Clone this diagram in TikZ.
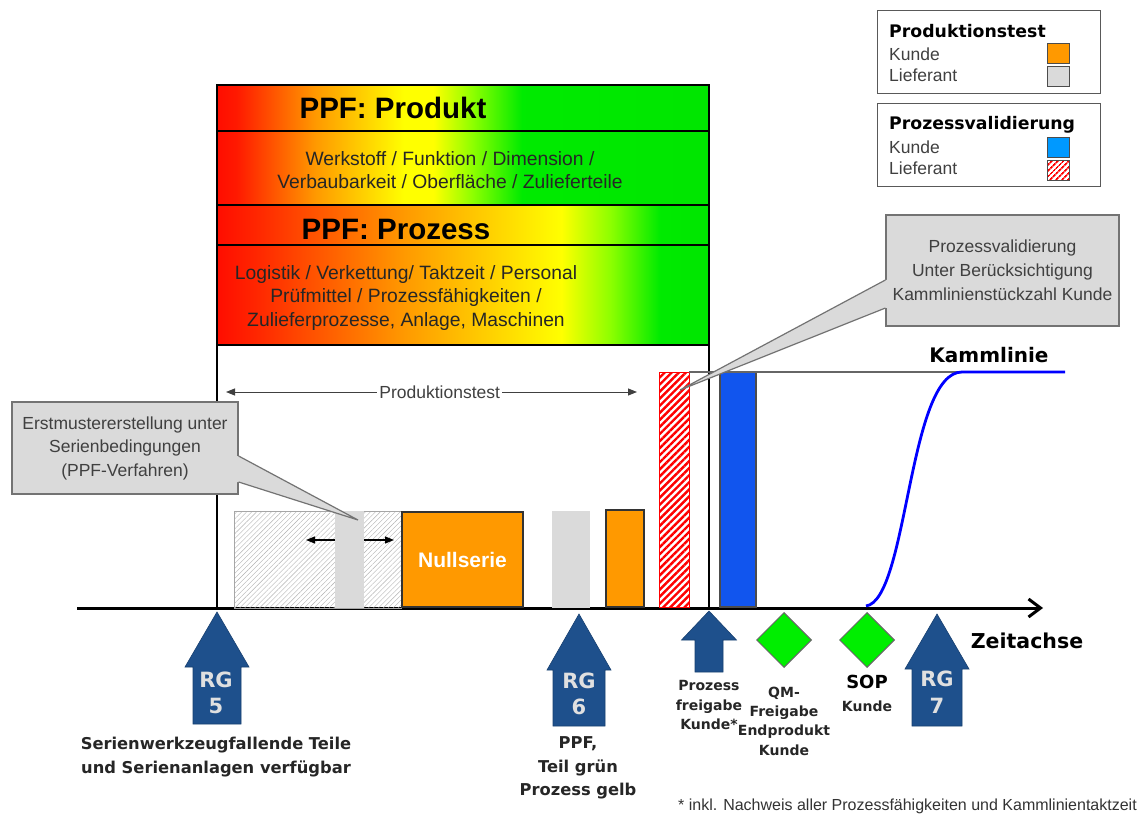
\documentclass[tikz,border=0pt]{standalone}
\usepackage{fontspec}
\setmainfont{Liberation Sans}
\newfontfamily\widesans{DejaVu Sans}
\usetikzlibrary{arrows.meta,patterns.meta,shapes.geometric}

\definecolor{ppforange}{RGB}{255,153,0}
\definecolor{ltgray}{RGB}{218,218,218}
\definecolor{barblue}{RGB}{17,85,238}
\definecolor{legblue}{RGB}{0,153,255}
\definecolor{rgblue}{RGB}{30,80,140}
\definecolor{msgreen}{RGB}{0,238,0}
\definecolor{calloutgray}{RGB}{218,218,218}

\newcommand\pxs[2]{\fontsize{#1}{#2}\selectfont}

% colour ramps for the two PPF bands (25bp = left edge, 75bp = right edge)
\pgfdeclarehorizontalshading{prodramp}{100bp}{%
  rgb(0bp)=(1,0.05,0); rgb(25bp)=(1,0.05,0); rgb(27bp)=(1,0.1,0);
  rgb(35bp)=(1,0.6,0); rgb(44bp)=(1,1,0); rgb(47bp)=(1,1,0);
  rgb(51bp)=(0.55,1,0); rgb(56bp)=(0,0.92,0); rgb(75bp)=(0,0.9,0);
  rgb(100bp)=(0,0.9,0)}
\pgfdeclarehorizontalshading{procramp}{100bp}{%
  rgb(0bp)=(1,0.05,0); rgb(25bp)=(1,0.05,0); rgb(29bp)=(1,0.15,0);
  rgb(44bp)=(1,0.6,0); rgb(60bp)=(1,1,0); rgb(65bp)=(0.55,1,0);
  rgb(70bp)=(0,0.92,0); rgb(75bp)=(0,0.9,0); rgb(100bp)=(0,0.9,0)}

% upward block arrow: tip x, tip y, head half width, head length, shaft half width, shaft length
\newcommand\rgarrow[6]{%
  \filldraw[fill=rgblue, draw=rgblue!80!black, line width=0.6pt]
    (#1,#2) -- ++(#3,#4) -- ++({-(#3-#5)},0) -- ++(0,#6) -- ++({-2*#5},0)
    -- ++(0,{-#6}) -- ++({-(#3-#5)},0) -- cycle;}

\begin{document}
\begin{tikzpicture}[x=1pt,y=-1pt,
  band/.style={draw=black, line width=2.6pt, minimum width=492pt, anchor=north west,
    inner sep=0pt, outer sep=0pt},
  bandtitle/.style={font=\bfseries\pxs{29.5}{34}, text=black, inner sep=0pt},
  bandtext/.style={font=\pxs{19.3}{23.5}, text=black!85, align=center, inner sep=0pt},
  legbox/.style={draw=black!65, line width=1.2pt, fill=white, anchor=north west,
    minimum width=223pt, minimum height=83pt, inner sep=0pt},
  legtitle/.style={font=\widesans\bfseries\pxs{17.3}{20}, anchor=west, inner sep=0pt},
  legtext/.style={font=\pxs{17.5}{20}, text=black!75, anchor=west, inner sep=0pt},
  swatch/.style={draw=black!70, line width=1pt, anchor=north west, minimum width=22pt,
    minimum height=20pt, inner sep=0pt},
  bar/.style={anchor=north west, inner sep=0pt, outer sep=0pt},
  callout/.style={fill=calloutgray, draw=black!55, line width=1.2pt, inner sep=0pt,
    align=center, text=black!75},
  thinarrow/.style={draw=black!75, line width=1pt, {Triangle[length=9pt,width=7pt]}-{Triangle[length=9pt,width=7pt]}},
  smallarrow/.style={draw=black, line width=1.2pt, -{Triangle[length=9pt,width=7pt]}},
  rglabel/.style={font=\widesans\bfseries\pxs{21}{24}, text=black!12, inner sep=0pt},
  milestone/.style={font=\widesans\bfseries\pxs{16.3}{23.5}, text=black!85, align=center, inner sep=0pt},
  smalllabel/.style={font=\widesans\bfseries\pxs{14}{19.3}, text=black!85, align=center, inner sep=0pt},
  gate/.style={diamond, aspect=1, minimum width=55pt, minimum height=55pt, inner sep=0pt,
    fill=msgreen, draw=black!60, line width=1pt},
]
\useasboundingbox (0,0) rectangle (1138,818);
\fill[white] (0,0) rectangle (1138,818);

% ---------- PPF bands ----------
\node[band, shading=prodramp, minimum height=46pt] (b1) at (217,85) {};
\node[band, shading=prodramp, minimum height=74pt] (b2) at (217,131) {};
\node[band, shading=procramp, minimum height=40pt] (b3) at (217,205) {};
\node[band, shading=procramp, minimum height=100pt] (b4) at (217,245) {};

\node[bandtitle] (t1) at (393,108) {PPF: Produkt};
\node[bandtext] (t2) at (450,170) {Werkstoff / Funktion / Dimension /\\Verbaubarkeit / Oberfläche / Zulieferteile};
\node[bandtitle] (t3) at (396,229) {PPF: Prozess};
\node[bandtext] (t4) at (406,298) {Logistik / Verkettung/ Taktzeit / Personal\\Prüfmittel / Prozessfähigkeiten /\\Zulieferprozesse, Anlage, Maschinen};

% ---------- time axis and frame ----------
\coordinate (ax0) at (77,608);
\coordinate (ax1) at (1043,608);
\draw[line width=3pt, -{Straight Barb[length=12pt,width=18pt]}] (ax0) -- (ax1);
\draw[line width=2.6pt] (b1.north west) -- (b1.north west |- ax0);
\draw[line width=2.6pt] (b1.north east) -- (b1.north east |- ax0);
\node[font=\widesans\bfseries\pxs{20.5}{24}, inner sep=0pt] (zeit) at (1027,641) {Zeitachse};

% ---------- Produktionstest span ----------
\coordinate (pa) at (226,392);
\coordinate (pb) at (637,392);
\draw[thinarrow] (pa) -- (pb)
  node[pos=0.52, fill=white, inner sep=2pt, font=\pxs{17.5}{20}, text=black!75] (ptl) {Produktionstest};

% ---------- bars ----------
\node[bar, minimum width=167pt, minimum height=97pt, fill=white,
  pattern={Lines[angle=45,distance=3.5pt,line width=0.4pt]}, pattern color=black!30,
  draw=black!35, line width=0.6pt] (g1) at (234,511) {};
\node[bar, minimum width=29pt, minimum height=97pt, fill=ltgray] (g2) at (335,511) {};
\coordinate (la) at (306,540);
\coordinate (ra) at (394,540);
\draw[smallarrow] (la -| g2.west) -- (la);
\draw[smallarrow] (ra -| g2.east) -- (ra);

\node[bar, minimum width=121pt, minimum height=95pt, fill=ppforange, draw=black!80,
  line width=1.2pt] (n0) at (402,512) {};
\node[font=\bfseries\pxs{21}{24}, text=white, inner sep=0pt] (nl) at (n0.center) {Nullserie};

\node[bar, minimum width=38pt, minimum height=97pt, fill=ltgray] (g3) at (552,511) {};
\node[bar, minimum width=38pt, minimum height=97pt, fill=ppforange, draw=black!80,
  line width=1.2pt] (o2) at (606,510) {};
\node[bar, minimum width=30pt, minimum height=235pt, fill=white,
  pattern={Lines[angle=45,distance=5pt,line width=2.4pt]}, pattern color=red,
  draw=red, line width=1pt] (r1) at (659,372) {};
\node[bar, minimum width=36pt, minimum height=235pt, fill=barblue, draw=black!70,
  line width=1.2pt] (bb) at (720,372) {};

% ---------- Kammlinie ----------
\coordinate (km) at (962,372);
\coordinate (ks) at (866,606);
\coordinate (ke) at (1065,372);
\draw[black!60, line width=1.2pt] (r1.north east) -- (km);
\draw[blue, line width=2.8pt] (ks) .. controls (908,600) and (908,372) .. (km) -- (ke);
\node[font=\widesans\bfseries\pxs{20}{24}, inner sep=0pt] (kl) at (989,355) {Kammlinie};

% ---------- gates ----------
\rgarrow{217}{612}{32}{55}{24}{57}
\node[rglabel] (rg5a) at (216,680) {RG};
\node[rglabel] (rg5b) at (216,706) {5};
\rgarrow{579}{614}{32}{56}{26}{56}
\node[rglabel] (rg6a) at (579,681) {RG};
\node[rglabel] (rg6b) at (579,707) {6};
\rgarrow{937}{614}{32}{55}{25}{57}
\node[rglabel] (rg7a) at (937,679) {RG};
\node[rglabel] (rg7b) at (937,706) {7};
\rgarrow{709}{611}{27.5}{29}{14}{32}

\node[gate] (qm) at (784,640) {};
\node[gate] (sop) at (867,640) {};

\node[milestone] (m5) at (216,757) {Serienwerkzeugfallende Teile\\und Serienanlagen verfügbar};
\node[milestone] (m6) at (578,768) {PPF,\\Teil grün\\Prozess gelb};
\node[smalllabel] (mpf) at (709,705) {Prozess\\freigabe\\Kunde*};
\node[smalllabel] (mqm) at (784,721) {QM-\\Freigabe\\Endprodukt\\Kunde};
\node[font=\widesans\bfseries\pxs{18}{22}, inner sep=0pt] (msop) at (867,682) {SOP};
\node[smalllabel] (msk) at (867,706) {Kunde};

% ---------- legend ----------
\node[legbox] (lg1) at (877,10) {};
\node[legtitle] (lg1t) at (889,31) {Produktionstest};
\node[legtext] (lg1a) at (889,54) {Kunde};
\node[legtext] (lg1b) at (889,75) {Lieferant};
\node[swatch, fill=ppforange] (sw1) at (1047,43) {};
\node[swatch, fill=ltgray] (sw2) at (1047,66) {};

\node[legbox] (lg2) at (877,103) {};
\node[legtitle] (lg2t) at (889,125) {Prozessvalidierung};
\node[legtext] (lg2a) at (889,147) {Kunde};
\node[legtext] (lg2b) at (889,168) {Lieferant};
\node[swatch, fill=legblue] (sw3) at (1047,137) {};
\node[swatch, fill=white, pattern={Lines[angle=45,distance=4pt,line width=1.8pt]},
  pattern color=red] (sw4) at (1047,160) {};

% ---------- callouts ----------
\node[callout, minimum width=226pt, minimum height=92pt, font=\pxs{17.5}{23.5}] (c1) at (125,448)
  {Erstmustererstellung unter\\Serienbedingungen\\(PPF-Verfahren)};
\coordinate (c1tip) at (358,520);
\fill[calloutgray] ([xshift=-2pt,yshift=-8pt]c1.east) -- ([yshift=-8pt]c1.east) -- (c1tip)
  -- ([yshift=-34pt]c1.east) -- ([xshift=-2pt,yshift=-34pt]c1.east) -- cycle;
\draw[black!55, line width=1.2pt, line join=miter] ([yshift=-8pt]c1.east) -- (c1tip) -- ([yshift=-34pt]c1.east);

\node[callout, minimum width=233pt, minimum height=111pt, font=\pxs{17.5}{24}] (c2) at (1002.5,270.5)
  {Prozessvalidierung\\Unter Berücksichtigung\\Kammlinienstückzahl Kunde};
\coordinate (c2tip) at (680,390);
\fill[calloutgray] ([xshift=2pt,yshift=-9.5pt]c2.west) -- ([yshift=-9.5pt]c2.west) -- (c2tip)
  -- ([yshift=-37.5pt]c2.west) -- ([xshift=2pt,yshift=-37.5pt]c2.west) -- cycle;
\draw[black!55, line width=1.2pt] ([yshift=-9.5pt]c2.west) -- (c2tip) -- ([yshift=-37.5pt]c2.west);

% ---------- footnote ----------
\node[anchor=east, font=\pxs{16}{20}, text=black!80, inner sep=0pt] (fn) at (1137,806)
  {* inkl. Nachweis aller Prozessfähigkeiten und Kammlinientaktzeit};
\end{tikzpicture}
\end{document}
